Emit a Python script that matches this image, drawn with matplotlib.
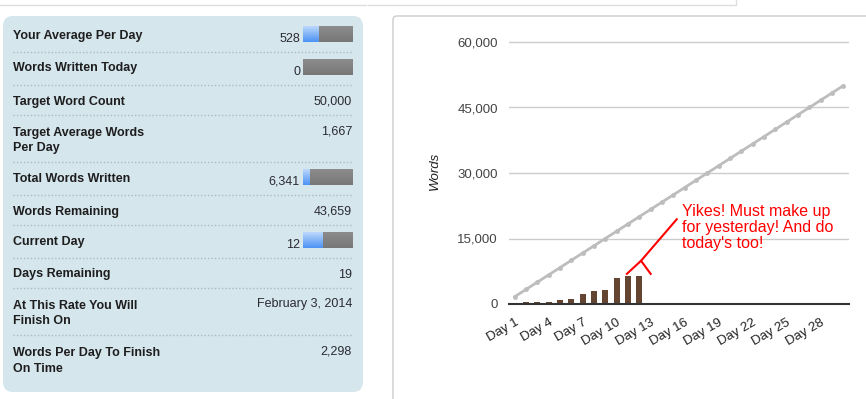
import numpy as np
import matplotlib.pyplot as plt
from matplotlib.patches import FancyBboxPatch
from matplotlib.colors import LinearSegmentedColormap

plt.rcParams['font.family'] = ['Liberation Sans', 'DejaVu Sans']

# pannello statistiche (sinistra)
stat_labels = ["Your Average Per Day", "Words Written Today", "Target Word Count",
               "Target Average Words\nPer Day", "Total Words Written", "Words Remaining",
               "Current Day", "Days Remaining", "At This Rate You Will\nFinish On",
               "Words Per Day To Finish\nOn Time"]
stat_values = ["528", "0", "50,000", "1,667", "6,341", "43,659", "12", "19",
               "February 3, 2014", "2,298"]
# barra di avanzamento: (valore, massimo) oppure None
stat_progress = [(528, 1667), (0, 1667), None, None, (6341, 50000), None,
                 (12, 31), None, None, None]

# grafico (destra)
days = list(range(1, 31))
words_written = [0, 528, 528, 528, 900, 1150, 2400, 3000, 3200, 6000, 6341, 6341]
target_words = [1667, 3333, 5000, 6667, 8333, 10000, 11667, 13333, 15000, 16667,
                18333, 20000, 21667, 23333, 25000, 26667, 28333, 30000, 31667, 33333,
                35000, 36667, 38333, 40000, 41667, 43333, 45000, 46667, 48333, 50000]
y_ticks = [0, 15000, 30000, 45000, 60000]
x_ticks = [1, 4, 7, 10, 13, 16, 19, 22, 25, 28]
x_ticklabels = ["Day %d" % d for d in x_ticks]
note = "Yikes! Must make up\nfor yesterday! And do\ntoday's too!"

W, H = 866, 399
fig = plt.figure(figsize=(W / 100, H / 100), dpi=100)
fig.patch.set_facecolor('white')

# sfondo in coordinate pixel
bg = fig.add_axes([0, 0, 1, 1])
bg.set_xlim(0, W)
bg.set_ylim(H, 0)
bg.axis('off')

# bordi residui in alto
bg.plot([0, 366], [5, 5], color='#dddddd', lw=1)
bg.plot([368, 736, 736], [5, 5, 0], color='#dddddd', lw=1)

# scheda bianca del grafico
bg.add_patch(FancyBboxPatch((393, 16), 520, 420, boxstyle='round,pad=0,rounding_size=4',
                            facecolor='white', edgecolor='#cccccc', lw=1))

# riquadro azzurro
bg.add_patch(FancyBboxPatch((3, 16), 360, 376, boxstyle='round,pad=0,rounding_size=10',
                            facecolor='#d6e6ed', edgecolor='none'))

blue_cmap = LinearSegmentedColormap.from_list('blu', ['#bcd7fb', '#4c93f4'])
grey_cmap = LinearSegmentedColormap.from_list('grigio', ['#8c8c8c', '#777777'])
grad = np.linspace(0, 1, 32).reshape(-1, 1)

top = 19
for i, (lab, val, prog) in enumerate(zip(stat_labels, stat_values, stat_progress)):
    nlines = lab.count('\n') + 1
    row_h = 30 + (3 if prog else 0) + 17 * (nlines - 1)
    # 'baseline' allinea l'ultima riga: sposto in basso per i testi su due righe
    bg.text(13, top + 19.5 + 17 * (nlines - 1), lab, fontsize=9, fontweight='bold',
            color='#1e1e1e', ha='left', va='baseline', linespacing=1.36)
    if prog is None:
        bg.text(352, top + 19.5, val, fontsize=9, color='#2a2a33', ha='right', va='baseline')
    else:
        bg.text(300, top + 23, val, fontsize=9, color='#2a2a33', ha='right', va='baseline')
        x0, x1, y0, y1 = 303, 353, top + 7, top + 23
        bg.imshow(grad, cmap=grey_cmap, origin='upper', extent=(x0, x1, y1, y0),
                  aspect='auto', interpolation='bilinear', zorder=2)
        frac = prog[0] / prog[1]
        if frac > 0:
            bg.imshow(grad, cmap=blue_cmap, origin='upper',
                      extent=(x0, x0 + frac * (x1 - x0), y1, y0),
                      aspect='auto', interpolation='bilinear', zorder=3)
    top += row_h
    if i < len(stat_labels) - 1:
        bg.plot([13, 352], [top, top], color='#a9bcc6', lw=1, ls=(0, (1, 1.5)))

bg.set_xlim(0, W)
bg.set_ylim(H, 0)

# grafico
y_top = 61000
ax_top_px = 304 - 262 * y_top / 60000
ax = fig.add_axes([509 / W, (H - 304) / H, 340 / W, (304 - ax_top_px) / H])
ax.patch.set_alpha(0)
ax.bar(days[:len(words_written)], words_written, width=0.55, color='#634532', zorder=3)
ax.plot(days, target_words, color='#bdbdbd', lw=2, marker='o', ms=2.5, zorder=2)
ax.set_xlim(0.5, 30.5)
ax.set_ylim(0, y_top)
ax.set_yticks(y_ticks)
ax.set_yticklabels(["{:,}".format(v) for v in y_ticks])
ax.set_xticks(x_ticks)
ax.set_xticklabels(x_ticklabels, rotation=30, ha='right', rotation_mode='anchor')
ax.grid(axis='y', color='#cccccc', lw=1)
ax.set_axisbelow(True)
for s in ['top', 'right', 'left']:
    ax.spines[s].set_visible(False)
ax.spines['bottom'].set_color('#333333')
ax.spines['bottom'].set_linewidth(1.5)
ax.spines['bottom'].set_zorder(4)
ax.tick_params(axis='y', length=0, pad=8, labelsize=9.5, labelcolor='#444444')
ax.tick_params(axis='x', length=0, pad=9, labelsize=9.5, labelcolor='#222222')
ax.set_ylabel('Words', fontsize=9.5, style='italic', color='#222222')
ax.yaxis.set_label_coords(-0.2, 0.5)

# nota in rosso
ax.plot([15.3, 12.15], [19400, 9900], color='red', lw=1.5, clip_on=False, zorder=5)
ax.plot([10.9, 12.15, 13.0], [6900, 9900, 6900], color='red', lw=1.5, clip_on=False, zorder=5)
ax.text(15.75, 22800, note, fontsize=11.5, color='red', ha='left', va='top',
        linespacing=1.08, zorder=5)

fig.savefig('out.png', dpi=100)
